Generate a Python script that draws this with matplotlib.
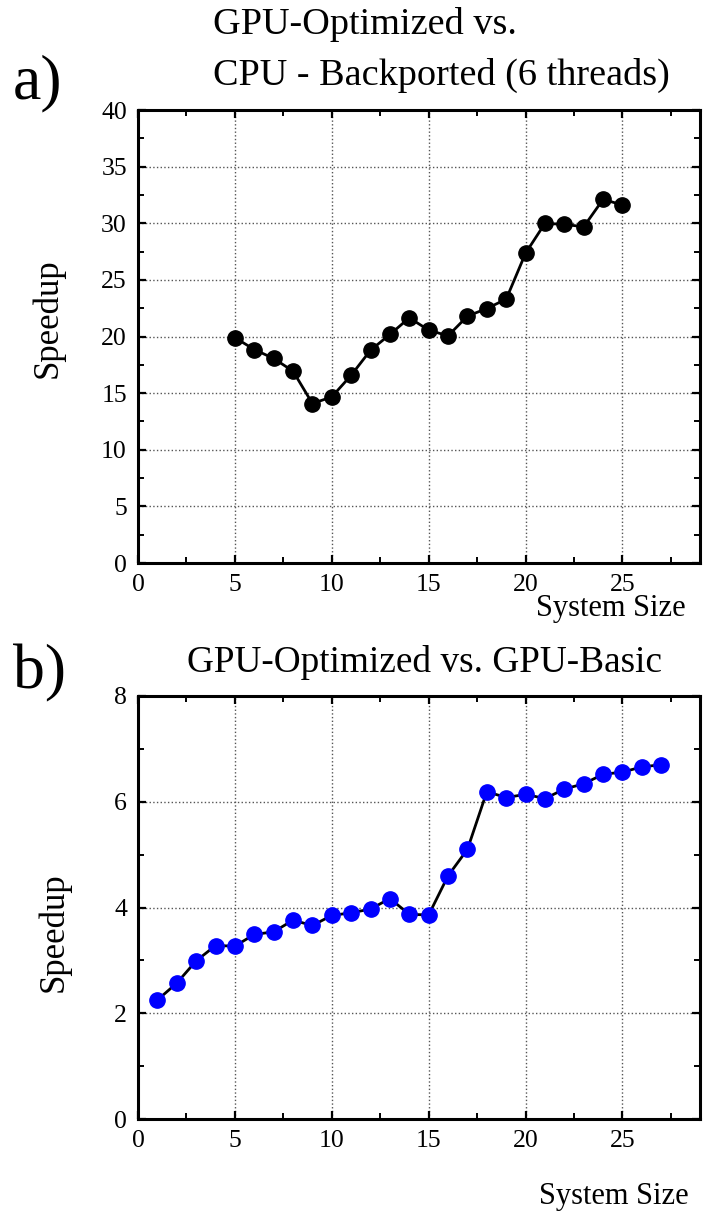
import matplotlib.pyplot as plt
from matplotlib.ticker import MultipleLocator

# panel a) GPU-Optimized vs. CPU-Backported
size_a = [5, 6, 7, 8, 9, 10, 11, 12, 13, 14, 15, 16, 17, 18, 19, 20, 21, 22, 23, 24, 25]
speedup_a = [19.9, 18.85, 18.06, 16.94, 14.08, 14.67, 16.58, 18.79, 20.18, 21.65,
             20.56, 20.06, 21.8, 22.47, 23.3, 27.36, 29.99, 29.9, 29.69, 32.11, 31.61]

# panel b) GPU-Optimized vs. GPU-Basic
size_b = list(range(1, 28))
speedup_b = [2.25, 2.57, 2.99, 3.28, 3.27, 3.49, 3.54, 3.76, 3.66, 3.85, 3.9, 3.97, 4.17, 3.87,
             3.86, 4.6, 5.1, 6.19, 6.08, 6.14, 6.06, 6.24, 6.34, 6.52, 6.56, 6.66, 6.7]

plt.rcParams['font.family'] = ['Liberation Serif', 'DejaVu Serif']

W, H = 704, 1216
fig = plt.figure(figsize=(W / 100, H / 100), dpi=100)


def px_axes(left, top, right, bottom):
    return fig.add_axes([left / W, 1 - bottom / H, (right - left) / W, (bottom - top) / H])


def style(ax, ymax, ymajor, yminor):
    ax.set_xlim(0, 29)
    ax.set_ylim(0, ymax)
    ax.xaxis.set_major_locator(MultipleLocator(5))
    ax.xaxis.set_minor_locator(MultipleLocator(2.5))
    ax.yaxis.set_major_locator(MultipleLocator(ymajor))
    ax.yaxis.set_minor_locator(MultipleLocator(yminor))
    ax.tick_params(which='both', direction='in', top=True, right=True, labelsize=18.5)
    ax.tick_params(which='major', length=6, width=1.6, pad=8)
    ax.tick_params(which='minor', length=4, width=1.4)
    for s in ax.spines.values():
        s.set_linewidth(2.2)
    ax.grid(True, which='major', linestyle=':', color='#555555', linewidth=1.0)
    ax.set_axisbelow(True)


ax1 = px_axes(138, 110, 700, 563)
style(ax1, 40, 5, 2.5)
ax1.plot(size_a, speedup_a, color='black', linewidth=2.0, marker='o',
         markersize=11, markerfacecolor='black', markeredgecolor='black', zorder=3)

ax2 = px_axes(138, 696, 700, 1119)
style(ax2, 8, 2, 1)
ax2.plot(size_b, speedup_b, color='black', linewidth=2.0, marker='o',
         markersize=11, markerfacecolor='blue', markeredgecolor='blue', zorder=3)

# titles and labels
fig.text(213 / W, 1 - 25 / H, 'GPU-Optimized vs.', fontsize=27.5, ha='left', va='center')
fig.text(213 / W, 1 - 75 / H, 'CPU - Backported (6 threads)', fontsize=27.5, ha='left', va='center')
fig.text(425 / W, 1 - 662 / H, 'GPU-Optimized vs. GPU-Basic', fontsize=26.8, ha='center', va='center')

fig.text(13 / W, 1 - 98 / H, 'a)', fontsize=46, ha='left', va='baseline')
fig.text(13 / W, 1 - 688 / H, 'b)', fontsize=46, ha='left', va='baseline')

fig.text(686 / W, 1 - 616 / H, 'System Size', fontsize=22, ha='right', va='baseline')
fig.text(689 / W, 1 - 1204 / H, 'System Size', fontsize=22, ha='right', va='baseline')

fig.text(48 / W, 1 - 318 / H, 'Speedup', fontsize=25, rotation=90, ha='center', va='center')
fig.text(54 / W, 1 - 932 / H, 'Speedup', fontsize=25, rotation=90, ha='center', va='center')

fig.savefig('out.png', dpi=100)
